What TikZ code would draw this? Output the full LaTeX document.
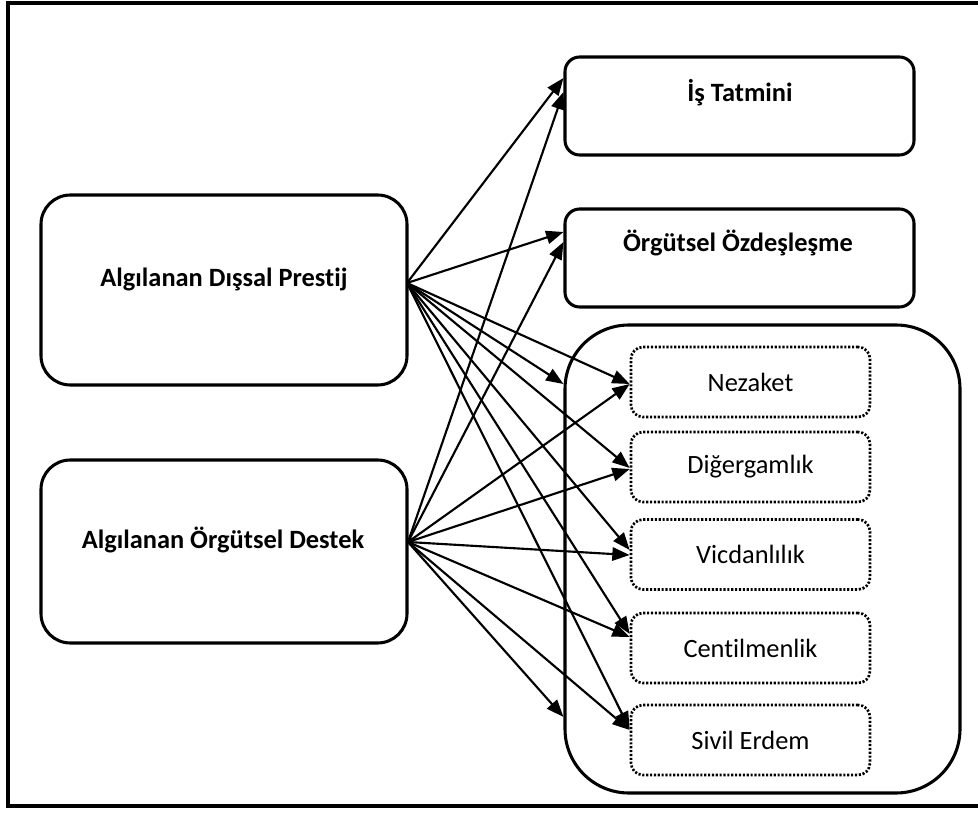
\documentclass[tikz,border=0pt]{standalone}
\usepackage{fontspec}
\setmainfont{Carlito}[Ligatures={NoCommon}]
\usetikzlibrary{arrows.meta}
\tikzset{
  bigbox/.style={draw, line width=2.3pt, rounded corners=22pt, inner sep=0pt},
  smallbox/.style={draw, line width=2.3pt, rounded corners=11pt, inner sep=0pt, minimum width=261.75pt, minimum height=73.5pt},
  dotbox/.style={draw, line width=2pt, dash pattern=on 1.6pt off 1.3pt, rounded corners=9pt, inner sep=0pt, minimum width=179.25pt, minimum height=52.5pt, font=\fontsize{19.8}{24}\selectfont},
  boldlabel/.style={inner sep=0pt, font=\fontsize{19.8}{24}\selectfont\bfseries},
  conn/.style={line width=1.6pt, -{Triangle[length=13pt,width=10pt]}}
}
\begin{document}
\begin{tikzpicture}[x=0.75pt,y=-0.75pt]
\useasboundingbox (0,0) rectangle (978,816);
% outer frame
\draw[line width=2.3pt] (995,3) -- (8,3) -- (8,806) -- (995,806);
% left boxes
\node[bigbox, minimum width=274.5pt, minimum height=142.5pt] (A) at (224,290) {};
\node[boldlabel] (Alab) at (224,279) {Algılanan Dışsal Prestij};
\node[bigbox, minimum width=274.5pt, minimum height=137.25pt] (B) at (224,551.5) {};
\node[boldlabel] (Blab) at (223,540) {Algılanan Örgütsel Destek};
% right boxes
\node[smallbox] (is) at (739.5,106) {};
\node[boldlabel] (islab) at (740,93) {İş Tatmini};
\node[smallbox] (org) at (739.5,258) {};
\node[boldlabel] (orglab) at (738,243) {Örgütsel Özdeşleşme};
% container
\node[draw, line width=2.3pt, rounded corners=48pt, minimum width=296.25pt, minimum height=351pt, inner sep=0pt] (C) at (762.5,559) {};
% dotted boxes
\node[dotbox] (nez) at (750.5,382) {Nezaket};
\node[dotbox] (dig) at (750.5,467) {Diğergamlık};
\node[dotbox] (vic) at (750.5,554.5) {Vicdanlılık};
\node[dotbox] (cen) at (750.5,648) {Centilmenlik};
\node[dotbox] (siv) at (750.5,740) {Sivil Erdem};
% source points
\coordinate (pA) at (407,283);
\coordinate (pB) at (408,542);
% arrows from A
\draw[conn] (pA) -- ([yshift=21pt]is.west);
\draw[conn] (pA) -- ([yshift=19.5pt]org.west);
\draw[conn] (pA) -- ([yshift=131.25pt]C.west);
\draw[conn] (pA) -- ([yshift=-1.5pt]nez.west);
\draw[conn] (pA) -- ([yshift=-0.75pt]dig.west);
\draw[conn] (pA) -- ([yshift=3.4pt]vic.west);
\draw[conn] (pA) -- ([yshift=10.5pt]cen.west);
\draw[conn] (pA) -- ([yshift=8.25pt]siv.west);
% arrows from B
\draw[conn] (pB) -- ([yshift=10.5pt]is.west);
\draw[conn] (pB) -- ([yshift=12pt]org.west);
\draw[conn] (pB) -- ([yshift=-118.5pt]C.west);
\draw[conn] (pB) -- ([yshift=-1.5pt]nez.west);
\draw[conn] (pB) -- ([yshift=-1.5pt]dig.west);
\draw[conn] (pB) -- ([yshift=-0.4pt]vic.west);
\draw[conn] (pB) -- ([yshift=8.25pt]cen.west);
\draw[conn] (pB) -- ([yshift=7.5pt]siv.west);
\end{tikzpicture}
\end{document}
